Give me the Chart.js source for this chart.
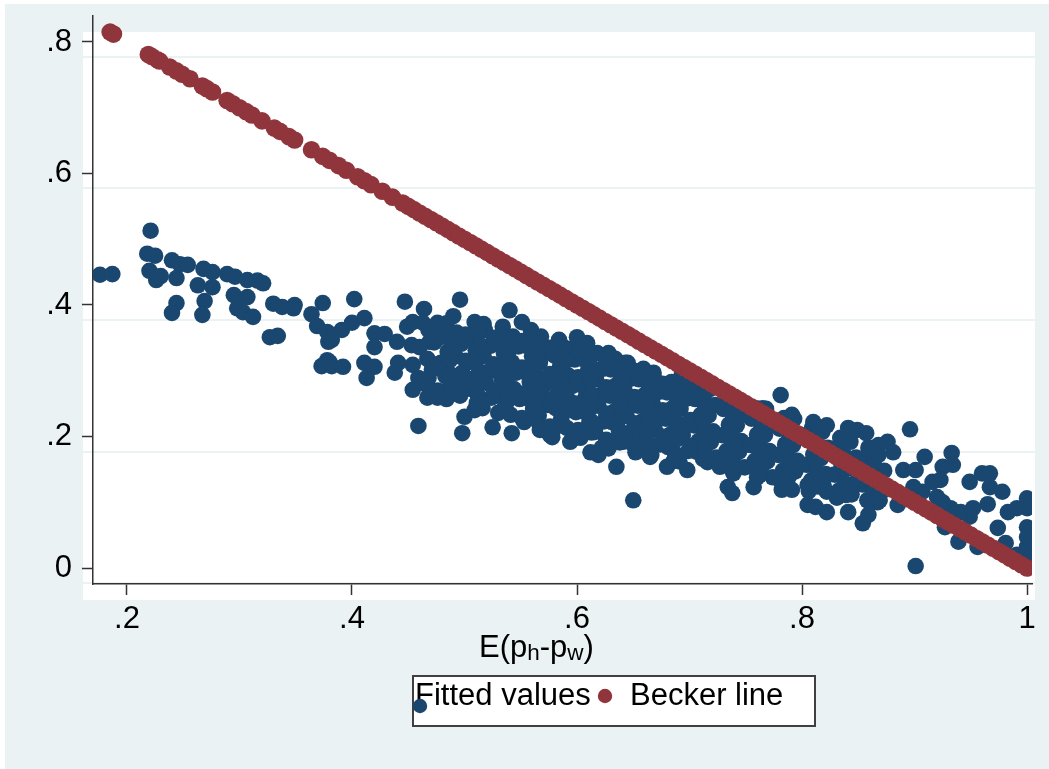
<!DOCTYPE html>
<html>
<head>
<meta charset="utf-8">
<script src="https://cdn.jsdelivr.net/npm/chart.js@4.4.1/dist/chart.umd.min.js"></script>
<style>
  html, body { margin: 0; padding: 0; background: #fff; }
  #wrap { width: 1049px; height: 769px; }
</style>
</head>
<body>
<div id="wrap"><canvas id="chart" width="1049" height="769"></canvas></div>
<script>
var xTicks = [0.2, 0.4, 0.6, 0.8, 1];
var xTickLabels = ['.2', '.4', '.6', '.8', '1'];
var yTicks = [0, 0.2, 0.4, 0.6, 0.8];
var yTickLabels = ['0', '.2', '.4', '.6', '.8'];

// fitted values, left sparse part (x < .45)
var fittedLeft = [
  [0.176,0.446],[0.187,0.447],[0.221,0.513],[0.218,0.478],[0.225,0.475],[0.220,0.452],[0.226,0.438],[0.230,0.444],
  [0.240,0.468],[0.247,0.462],[0.254,0.461],[0.244,0.441],[0.263,0.430],[0.268,0.455],[0.276,0.450],[0.276,0.427],
  [0.289,0.447],[0.296,0.443],[0.307,0.438],[0.316,0.437],[0.321,0.433],[0.295,0.415],[0.307,0.412],[0.298,0.395],
  [0.303,0.389],[0.312,0.382],[0.244,0.403],[0.240,0.388],[0.269,0.406],[0.267,0.385],[0.330,0.402],[0.338,0.397],
  [0.348,0.395],[0.349,0.400],[0.327,0.351],[0.334,0.353],[0.364,0.386],[0.374,0.403],[0.402,0.409],[0.369,0.368],
  [0.378,0.359],[0.379,0.344],[0.391,0.362],[0.400,0.373],[0.411,0.380],[0.420,0.357],[0.429,0.356],[0.420,0.336],
  [0.378,0.316],[0.373,0.307],[0.382,0.307],[0.392,0.306],[0.411,0.312],[0.420,0.306],[0.413,0.289],[0.440,0.344],
  [0.438,0.297],[0.441,0.312],[0.382,0.347],[0.380,0.313],[0.447,0.405],[0.464,0.394]
];

// fitted values, edges of the main cloud
var fittedMid = [
  [0.496,0.408],[0.490,0.383],[0.540,0.392],[0.551,0.374],[0.517,0.371],[0.449,0.367],[0.454,0.374],[0.463,0.373],
  [0.476,0.373],[0.453,0.339],[0.460,0.336],[0.469,0.344],[0.478,0.351],[0.487,0.357],[0.454,0.309],[0.459,0.289],
  [0.468,0.289],[0.454,0.271],[0.467,0.259],[0.476,0.259],[0.484,0.257],[0.478,0.304],[0.490,0.275],[0.459,0.216],
  [0.498,0.205],[0.500,0.230],[0.509,0.240],[0.525,0.214],[0.542,0.205],[0.530,0.236],[0.570,0.210],[0.578,0.199],
  [0.600,0.351],[0.600,0.327],[0.583,0.333],[0.628,0.327],[0.645,0.312],[0.659,0.300],[0.668,0.297],[0.693,0.294],
  [0.702,0.274],[0.698,0.260],[0.709,0.263],[0.635,0.154],[0.739,0.144],[0.734,0.123],[0.681,0.184],[0.665,0.169],
  [0.680,0.154],[0.698,0.149],[0.716,0.161],[0.727,0.154],[0.652,0.176],[0.619,0.172],[0.612,0.176],[0.594,0.192],
  [0.576,0.202],[0.567,0.210],[0.650,0.103],[0.738,0.114]
];

// fitted values, dense core
var fittedCore = [
  [0.468,0.362],[0.473,0.343],[0.467,0.318],[0.471,0.302],[0.466,0.279],[0.472,0.262],
  [0.484,0.372],[0.480,0.352],[0.485,0.329],[0.479,0.312],[0.483,0.292],[0.481,0.268],
  [0.493,0.358],[0.497,0.341],[0.492,0.322],[0.498,0.297],[0.494,0.283],[0.496,0.262],
  [0.509,0.374],[0.505,0.348],[0.510,0.331],[0.504,0.313],[0.508,0.288],[0.506,0.272],[0.511,0.251],
  [0.518,0.362],[0.523,0.338],[0.517,0.322],[0.521,0.298],[0.519,0.282],[0.524,0.259],[0.516,0.243],
  [0.534,0.367],[0.530,0.344],[0.535,0.327],[0.529,0.303],[0.533,0.288],[0.531,0.263],[0.536,0.247],
  [0.543,0.352],[0.548,0.337],[0.542,0.313],[0.546,0.297],[0.544,0.272],[0.549,0.257],[0.541,0.233],
  [0.559,0.362],[0.555,0.338],[0.560,0.322],[0.554,0.298],[0.558,0.283],[0.556,0.258],[0.561,0.242],[0.553,0.222],
  [0.568,0.352],[0.573,0.328],[0.567,0.312],[0.571,0.288],[0.569,0.273],[0.574,0.248],[0.566,0.232],
  [0.584,0.347],[0.580,0.323],[0.585,0.307],[0.579,0.283],[0.583,0.267],[0.581,0.243],[0.586,0.227],[0.578,0.207],
  [0.593,0.333],[0.598,0.317],[0.592,0.293],[0.596,0.277],[0.594,0.253],[0.599,0.237],[0.591,0.213],[0.597,0.197],
  [0.609,0.342],[0.605,0.318],[0.610,0.302],[0.604,0.278],[0.608,0.262],[0.606,0.238],[0.611,0.222],[0.603,0.198],
  [0.618,0.327],[0.623,0.303],[0.617,0.287],[0.621,0.263],[0.619,0.247],[0.624,0.223],[0.616,0.207],[0.622,0.183],
  [0.634,0.318],[0.630,0.302],[0.635,0.278],[0.629,0.262],[0.633,0.238],[0.631,0.222],[0.636,0.198],[0.628,0.182],
  [0.643,0.312],[0.648,0.288],[0.642,0.272],[0.646,0.248],[0.644,0.232],[0.649,0.208],[0.641,0.192],
  [0.659,0.303],[0.655,0.287],[0.660,0.263],[0.654,0.247],[0.658,0.223],[0.656,0.207],[0.661,0.183],
  [0.668,0.292],[0.673,0.268],[0.667,0.252],[0.671,0.228],[0.669,0.212],[0.674,0.188],[0.666,0.172],
  [0.684,0.283],[0.680,0.267],[0.685,0.243],[0.679,0.227],[0.683,0.203],[0.681,0.187],[0.686,0.163],
  [0.693,0.282],[0.698,0.258],[0.692,0.242],[0.696,0.218],[0.694,0.202],[0.699,0.178],[0.691,0.162],
  [0.709,0.273],[0.705,0.257],[0.710,0.233],[0.704,0.217],[0.708,0.193],[0.706,0.177],
  [0.718,0.272],[0.723,0.248],[0.717,0.232],[0.721,0.208],[0.719,0.192],[0.724,0.168],
  [0.734,0.258],[0.730,0.242],[0.735,0.218],[0.729,0.202],[0.733,0.178],[0.731,0.162],
  [0.743,0.257],[0.748,0.233],[0.742,0.217],[0.746,0.193],[0.744,0.177],[0.749,0.153],
  [0.759,0.243],[0.755,0.227],[0.760,0.203],[0.754,0.187],[0.758,0.163],
  [0.768,0.242],[0.773,0.218],[0.767,0.202],[0.771,0.178],[0.769,0.162],[0.774,0.138],
  [0.784,0.228],[0.780,0.212],[0.785,0.188],[0.779,0.172],[0.783,0.148],[0.781,0.132],
  [0.793,0.227],[0.798,0.203],[0.792,0.187],[0.796,0.163],[0.794,0.147],
  [0.809,0.213],[0.805,0.197],[0.810,0.173],[0.804,0.157],[0.808,0.133],[0.806,0.117],
  [0.818,0.207],[0.823,0.183],[0.817,0.167],[0.821,0.143],[0.819,0.127],
  [0.834,0.198],[0.830,0.182],[0.835,0.158],[0.829,0.142],[0.833,0.118],[0.831,0.107],
  [0.843,0.192],[0.848,0.168],[0.842,0.152],[0.846,0.128],[0.844,0.112],
  [0.859,0.183],[0.855,0.167],[0.860,0.143],[0.854,0.127],
  [0.868,0.172],[0.873,0.148],[0.867,0.132],[0.871,0.117],
  [0.476,0.350],[0.476,0.310],[0.476,0.270],[0.501,0.355],[0.501,0.315],[0.501,0.275],
  [0.526,0.350],[0.526,0.310],[0.526,0.270],[0.551,0.345],[0.551,0.305],[0.551,0.265],[0.551,0.228],
  [0.576,0.335],[0.576,0.295],[0.576,0.255],[0.576,0.215],[0.601,0.330],[0.601,0.290],[0.601,0.250],[0.601,0.210],
  [0.626,0.315],[0.626,0.275],[0.626,0.235],[0.626,0.195],[0.651,0.300],[0.651,0.260],[0.651,0.220],[0.651,0.185],
  [0.676,0.280],[0.676,0.240],[0.676,0.200],[0.701,0.265],[0.701,0.225],[0.701,0.185]
];

// fitted values, second layer of the dense core
var fittedCore2 = [
  [0.488,0.356],[0.489,0.334],[0.487,0.316],[0.488,0.294],[0.489,0.276],
  [0.513,0.361],[0.514,0.339],[0.512,0.321],[0.513,0.299],[0.514,0.281],[0.512,0.262],
  [0.538,0.351],[0.539,0.329],[0.537,0.311],[0.538,0.289],[0.539,0.271],[0.537,0.251],
  [0.563,0.344],[0.564,0.326],[0.562,0.304],[0.563,0.286],[0.564,0.264],[0.562,0.246],[0.563,0.226],
  [0.588,0.336],[0.589,0.314],[0.587,0.296],[0.588,0.274],[0.589,0.256],[0.587,0.234],[0.588,0.216],
  [0.613,0.326],[0.614,0.304],[0.612,0.286],[0.613,0.264],[0.614,0.246],[0.612,0.224],[0.613,0.206],
  [0.638,0.309],[0.639,0.291],[0.637,0.269],[0.638,0.251],[0.639,0.229],[0.637,0.211],[0.638,0.191],
  [0.663,0.294],[0.664,0.276],[0.662,0.254],[0.663,0.236],[0.664,0.214],[0.662,0.196],[0.663,0.176],
  [0.688,0.276],[0.689,0.254],[0.687,0.236],[0.688,0.214],[0.689,0.196],[0.687,0.174],
  [0.713,0.264],[0.714,0.246],[0.712,0.224],[0.713,0.206],[0.714,0.184],[0.712,0.166],
  [0.738,0.249],[0.739,0.231],[0.737,0.209],[0.738,0.191],[0.739,0.169],[0.737,0.151],
  [0.763,0.234],[0.764,0.216],[0.762,0.194],[0.763,0.176],[0.764,0.154],[0.762,0.141],
  [0.788,0.221],[0.789,0.199],[0.787,0.181],[0.788,0.159],[0.789,0.141],
  [0.813,0.204],[0.814,0.186],[0.812,0.164],[0.813,0.146],[0.814,0.124],
  [0.838,0.191],[0.839,0.169],[0.837,0.151],[0.838,0.129],[0.839,0.111],
  [0.863,0.174],[0.864,0.156],[0.862,0.134],[0.863,0.116]
];

// fitted values, right sparse part
var fittedRight = [
  [0.781,0.263],[0.765,0.243],[0.791,0.233],[0.810,0.222],[0.822,0.217],[0.841,0.213],[0.849,0.210],[0.857,0.205],
  [0.896,0.211],[0.868,0.187],[0.876,0.192],[0.881,0.176],[0.909,0.169],[0.933,0.175],[0.925,0.154],[0.934,0.157],
  [0.960,0.144],[0.967,0.144],[0.949,0.131],[0.967,0.123],[0.978,0.116],[1.000,0.106],[1.000,0.091],[0.991,0.091],
  [0.983,0.085],[0.965,0.097],[0.952,0.091],[0.949,0.078],[0.941,0.085],[0.932,0.091],[0.925,0.100],[0.920,0.108],
  [0.916,0.131],[0.907,0.116],[0.899,0.123],[0.890,0.149],[0.901,0.149],[0.923,0.134],[1.000,0.062],[1.000,0.047],
  [1.000,0.032],[1.000,0.017],[0.991,0.020],[0.981,0.038],[0.974,0.061],[0.956,0.032],[0.939,0.040],[0.927,0.062],
  [0.901,0.003],[0.885,0.096],[0.867,0.100],[0.854,0.068],[0.859,0.081],[0.841,0.085],[0.822,0.085],[0.812,0.093],
  [0.805,0.096],[0.791,0.119],[0.782,0.119],[0.757,0.123],[0.760,0.138],[0.756,0.154],[0.787,0.137],[0.805,0.126],
  [0.822,0.116],[0.843,0.114],[0.858,0.103],[0.869,0.103]
];

// Becker line
var beckerPts = [
  [0.185,0.815],[0.188,0.812],
  [0.219,0.781],[0.222,0.778],[0.227,0.773],[0.229,0.771],[0.238,0.762],[0.244,0.756],[0.249,0.751],[0.256,0.744],
  [0.267,0.733],[0.271,0.729],[0.276,0.724],[0.289,0.711],[0.294,0.706],[0.300,0.700],[0.306,0.694],[0.311,0.689],
  [0.320,0.680],[0.331,0.669],[0.336,0.664],[0.344,0.656],[0.349,0.651],[0.364,0.636],[0.374,0.626],[0.380,0.620],
  [0.388,0.612],[0.395,0.605],[0.405,0.595],[0.411,0.589],[0.417,0.583],[0.427,0.573],[0.436,0.564],
  [0.445,0.555],[0.45,0.55],[0.455,0.545],[0.46,0.54],[0.465,0.535],[0.47,0.53],[0.475,0.525],[0.48,0.52],
  [0.485,0.515],[0.49,0.51],[0.495,0.505],[0.5,0.5],[0.505,0.495],[0.51,0.49],[0.515,0.485],[0.52,0.48],
  [0.525,0.475],[0.53,0.47],[0.535,0.465],[0.54,0.46],[0.545,0.455],[0.55,0.45],[0.555,0.445],[0.56,0.44],
  [0.565,0.435],[0.57,0.43],[0.575,0.425],[0.58,0.42],[0.585,0.415],[0.59,0.41],[0.595,0.405],[0.6,0.4],
  [0.605,0.395],[0.61,0.39],[0.615,0.385],[0.62,0.38],[0.625,0.375],[0.63,0.37],[0.635,0.365],[0.64,0.36],
  [0.645,0.355],[0.65,0.35],[0.655,0.345],[0.66,0.34],[0.665,0.335],[0.67,0.33],[0.675,0.325],[0.68,0.32],
  [0.685,0.315],[0.69,0.31],[0.695,0.305],[0.7,0.3],[0.705,0.295],[0.71,0.29],[0.715,0.285],[0.72,0.28],
  [0.725,0.275],[0.73,0.27],[0.735,0.265],[0.74,0.26],[0.745,0.255],[0.75,0.25],[0.755,0.245],[0.76,0.24],
  [0.765,0.235],[0.77,0.23],[0.775,0.225],[0.78,0.22],[0.785,0.215],[0.79,0.21],[0.795,0.205],[0.8,0.2],
  [0.805,0.195],[0.81,0.19],[0.815,0.185],[0.82,0.18],[0.825,0.175],[0.83,0.17],[0.835,0.165],[0.84,0.16],
  [0.845,0.155],[0.85,0.15],[0.855,0.145],[0.86,0.14],[0.865,0.135],[0.87,0.13],[0.875,0.125],[0.88,0.12],
  [0.885,0.115],[0.89,0.11],[0.895,0.105],[0.9,0.1],[0.905,0.095],[0.91,0.09],[0.915,0.085],[0.92,0.08],
  [0.925,0.075],[0.93,0.07],[0.935,0.065],[0.94,0.06],[0.945,0.055],[0.95,0.05],[0.955,0.045],[0.96,0.04],
  [0.965,0.035],[0.97,0.03],[0.975,0.025],[0.98,0.02],[0.985,0.015],[0.99,0.01],[0.995,0.005],[1,0]
];

var navy = '#1a476f';
var maroon = '#90353b';
var bluishGray = '#eaf2f3';
var fontFam = '"Liberation Sans", Arial, Helvetica, sans-serif';

function toXY(list) {
    return list.map(function(p) { return {x: p[0], y: p[1]}; });
}

// stata s2color look: bluish graph region, white plot region, grid lines
var stataFrame = {
    id: 'stataFrame',
    beforeDraw: function(chart) {
        var ctx = chart.ctx, a = chart.chartArea, ys = chart.scales.y;
        ctx.save();
        ctx.fillStyle = '#fff';
        ctx.fillRect(0, 0, chart.width, chart.height);
        ctx.fillStyle = bluishGray;
        ctx.fillRect(5, 4, chart.width - 5, chart.height - 4);
        // the plot region is shifted a bit from the axes in the original export
        ctx.fillStyle = '#fff';
        ctx.fillRect(a.left - 10, a.top + 16, a.right - a.left + 13, a.bottom - a.top);
        ctx.strokeStyle = bluishGray;
        ctx.lineWidth = 2;
        yTicks.forEach(function(v) {
            var py = Math.round(ys.getPixelForValue(v)) + 15;
            ctx.beginPath();
            ctx.moveTo(a.left - 10, py);
            ctx.lineTo(a.right + 3, py);
            ctx.stroke();
        });
        ctx.restore();
    },
    afterDraw: function(chart) {
        var ctx = chart.ctx;
        var ds = chart.data.datasets;
        ctx.save();
        ctx.fillStyle = '#000';
        ctx.textBaseline = 'alphabetic';
        ctx.textAlign = 'left';

        // x axis title E(p_h - p_w)
        var x = 479, base = 657;
        var parts = [['E(p', 0], ['h', 1], ['-p', 0], ['w', 1], [')', 0]];
        parts.forEach(function(p) {
            ctx.font = (p[1] ? '22.5px ' : '31px ') + fontFam;
            ctx.fillText(p[0], x, base + (p[1] ? 3 : 0));
            x += ctx.measureText(p[0]).width;
        });

        // legend box
        ctx.fillStyle = '#fff';
        ctx.fillRect(413, 676, 402, 50);
        ctx.strokeStyle = '#404040';
        ctx.lineWidth = 2;
        ctx.strokeRect(413, 676, 402, 50);
        ctx.font = '31px ' + fontFam;
        ctx.fillStyle = '#000';
        ctx.fillText(ds[0].label, 415, 705);
        ctx.fillText(ds[1].label, 630, 705);
        ctx.fillStyle = ds[0].backgroundColor;
        ctx.beginPath(); ctx.arc(420, 706, 7.2, 0, Math.PI * 2); ctx.fill();
        ctx.fillStyle = ds[1].backgroundColor;
        ctx.beginPath(); ctx.arc(605, 696, 7.2, 0, Math.PI * 2); ctx.fill();
        ctx.restore();
    }
};

var tickFont = {family: fontFam, size: 31};

new Chart(document.getElementById('chart'), {
    type: 'scatter',
    data: {
        datasets: [
            {
                label: 'Fitted values',
                data: toXY(fittedLeft.concat(fittedMid, fittedCore, fittedCore2, fittedRight)),
                backgroundColor: navy,
                borderColor: navy,
                pointBorderWidth: 0,
                pointRadius: 8.3,
                order: 1
            },
            {
                label: 'Becker line',
                data: toXY(beckerPts),
                backgroundColor: maroon,
                borderColor: maroon,
                pointBorderWidth: 0,
                pointRadius: 8.8,
                order: 0
            }
        ]
    },
    options: {
        responsive: false,
        animation: false,
        events: [],
        layout: { padding: {top: 16, right: 17, left: 0, bottom: 0}, autoPadding: false },
        plugins: {
            legend: { display: false },
            tooltip: { enabled: false }
        },
        scales: {
            x: {
                type: 'linear',
                min: 0.1698,
                max: 1.0044,
                afterBuildTicks: function(s) { s.ticks = xTicks.map(function(v) { return {value: v}; }); },
                afterFit: function(s) { s.height = 185; s.paddingLeft = 0; s.paddingRight = 0; },
                grid: { drawOnChartArea: false, drawTicks: true, tickLength: 11, tickColor: '#333', tickWidth: 1.5 },
                border: { display: true, color: '#333', width: 1.5 },
                ticks: {
                    padding: 6, color: '#000', font: tickFont, maxRotation: 0, autoSkip: false,
                    callback: function(v, i) { return xTickLabels[i]; }
                }
            },
            y: {
                type: 'linear',
                min: -0.0243,
                max: 0.8395,
                afterBuildTicks: function(s) { s.ticks = yTicks.map(function(v) { return {value: v}; }); },
                afterFit: function(s) { s.width = 93; s.paddingTop = 0; s.paddingBottom = 0; },
                grid: { drawOnChartArea: false, drawTicks: true, tickLength: 11, tickColor: '#333', tickWidth: 1.5 },
                border: { display: true, color: '#333', width: 1.5 },
                ticks: {
                    padding: 10, color: '#000', font: tickFont, autoSkip: false,
                    callback: function(v, i) { return yTickLabels[i]; }
                }
            }
        }
    },
    plugins: [stataFrame]
});
</script>
</body>
</html>
